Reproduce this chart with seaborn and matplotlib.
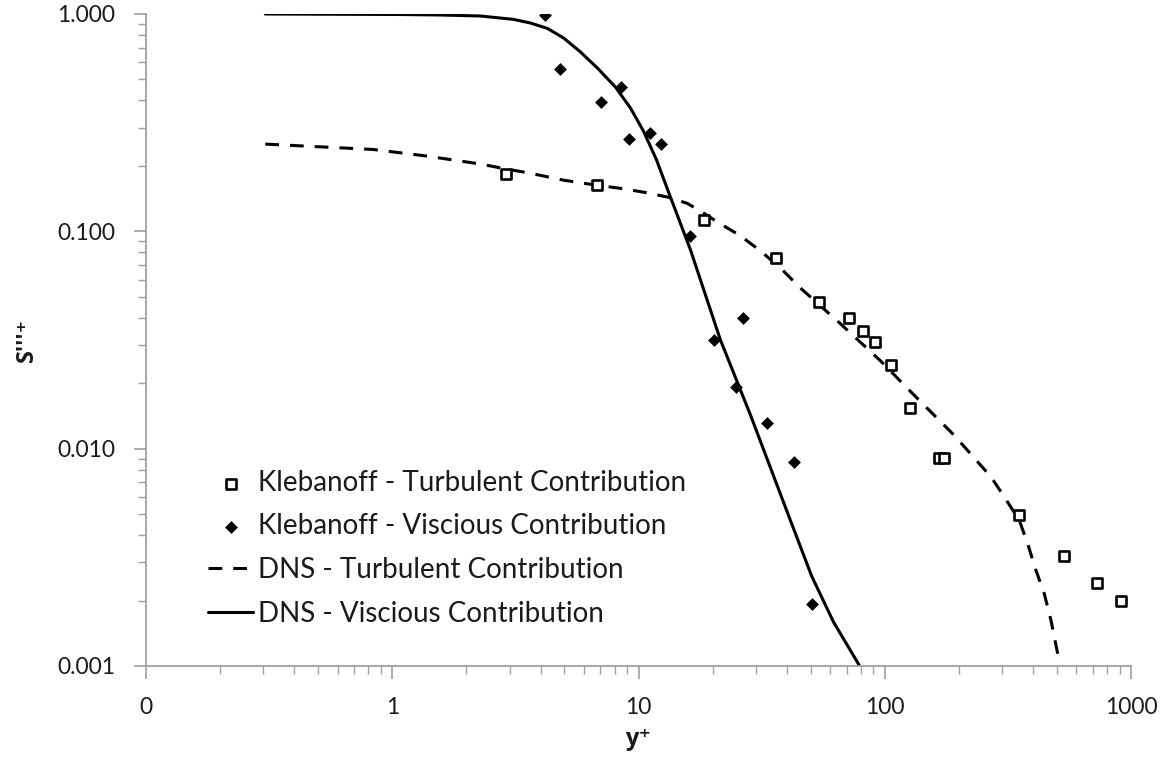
import numpy as np
import pandas as pd
import matplotlib
matplotlib.use("Agg")
import matplotlib.pyplot as plt
import seaborn as sns
from matplotlib.ticker import LogLocator, NullFormatter

# ---- data ----
kleb_turb_yplus = [2.91, 6.79, 18.4, 36.1, 54.1, 71.6, 81.9, 91.3, 106.5, 126.7,
                   165.8, 173.7, 351.6, 532.5, 727.6, 910.8]
kleb_turb_s = [0.1835, 0.1628, 0.1127, 0.0756, 0.0474, 0.0398, 0.0349, 0.0310,
               0.0243, 0.01533, 0.00908, 0.00908, 0.00495, 0.00320, 0.00241, 0.00200]

kleb_visc_yplus = [4.19, 4.82, 8.50, 7.07, 11.1, 9.11, 12.3, 16.2, 26.6, 20.2,
                   24.8, 33.4, 42.8, 50.5]
kleb_visc_s = [0.989, 0.557, 0.463, 0.394, 0.284, 0.267, 0.252, 0.0952, 0.0398,
               0.0316, 0.0193, 0.01315, 0.00865, 0.00193]

dns_turb_yplus = [0.305, 0.839, 1.38, 2.28, 2.91, 3.64, 4.96, 6.81, 8.45, 10.68,
                  13.24, 15.78, 18.37, 20.9, 26.0, 31.3, 37.8, 45.5, 66.2, 96.3,
                  131.5, 191, 270, 305.5, 351.6, 380, 411, 444, 473, 503.6, 507]
dns_turb_s = [0.252, 0.238, 0.222, 0.204, 0.1935, 0.185, 0.172, 0.1628, 0.1577,
              0.1509, 0.1434, 0.1345, 0.1214, 0.1104, 0.0952, 0.0812, 0.0676,
              0.0548, 0.0375, 0.0253, 0.01765, 0.01155, 0.00742, 0.00601,
              0.00469, 0.00367, 0.00276, 0.00216, 0.001626, 0.001143, 0.00109]

dns_visc_yplus = [0.305, 1.078, 1.567, 2.28, 3.10, 3.64, 4.27, 4.96, 5.81, 6.81,
                  8.06, 9.28, 10.48, 11.84, 13.24, 16.27, 21.5, 28.5, 41.5, 50.5,
                  62.0, 79.1]
dns_visc_s = [1.0, 0.9947, 0.9895, 0.979, 0.945, 0.909, 0.858, 0.776, 0.669,
              0.564, 0.461, 0.369, 0.289, 0.2129, 0.1517, 0.0820, 0.0317,
              0.01427, 0.00464, 0.00259, 0.00159, 0.001]

x_ticks = [0.1, 1, 10, 100, 1000]
x_tick_labels = ["0", "1", "10", "100", "1000"]
y_ticks = [0.001, 0.01, 0.1, 1.0]
y_tick_labels = ["0.001", "0.010", "0.100", "1.000"]

labels = ["Klebanoff - Turbulent Contribution",
          "Klebanoff - Viscious Contribution",
          "DNS - Turbulent Contribution",
          "DNS - Viscious Contribution"]

# ---- style ----
sns.set_theme(style="white")
plt.rcParams["font.family"] = ["Lato", "DejaVu Sans"]
axis_grey = "#a0a0a0"
text_col = "#1a1a1a"

fig = plt.figure(figsize=(11.68, 7.61), dpi=100)
ax = fig.add_axes([146 / 1168, 1 - 666 / 761, (1131 - 146) / 1168, (666 - 14) / 761])

df_dt = pd.DataFrame({"y": dns_turb_yplus, "s": dns_turb_s})
df_dv = pd.DataFrame({"y": dns_visc_yplus, "s": dns_visc_s})
df_kt = pd.DataFrame({"y": kleb_turb_yplus, "s": kleb_turb_s})
df_kv = pd.DataFrame({"y": kleb_visc_yplus, "s": kleb_visc_s})

lw = 2.2
sns.lineplot(data=df_dt, x="y", y="s", ax=ax, sort=False, estimator=None,
             color="black", lw=lw, label=labels[2], zorder=2)
ax.lines[-1].set_dashes([4.5, 3.6])
ax.lines[-1].set_solid_joinstyle("round")
sns.lineplot(data=df_dv, x="y", y="s", ax=ax, sort=False, estimator=None,
             color="black", lw=lw, label=labels[3], zorder=2)
ax.lines[-1].set_solid_joinstyle("round")
sns.scatterplot(data=df_kt, x="y", y="s", ax=ax, marker="s", s=60,
                facecolor="white", edgecolor="black", linewidth=1.9,
                label=labels[0], zorder=3)
sns.scatterplot(data=df_kv, x="y", y="s", ax=ax, marker="D", s=36,
                color="black", edgecolor="black", linewidth=0.5,
                label=labels[1], zorder=3)

ax.set_xscale("log")
ax.set_yscale("log")
ax.set_xlim(0.1, 1000)
ax.set_ylim(0.001, 1.0)

ax.set_xticks(x_ticks, labels=x_tick_labels)
ax.set_yticks(y_ticks, labels=y_tick_labels)
ax.xaxis.set_minor_locator(LogLocator(base=10, subs=np.arange(2, 10), numticks=50))
ax.yaxis.set_minor_locator(LogLocator(base=10, subs=np.arange(2, 10), numticks=50))
ax.xaxis.set_minor_formatter(NullFormatter())
ax.yaxis.set_minor_formatter(NullFormatter())

for side in ["top", "right"]:
    ax.spines[side].set_visible(False)
for side in ["left", "bottom"]:
    ax.spines[side].set_color(axis_grey)
    ax.spines[side].set_linewidth(1.3)

ax.tick_params(axis="both", which="both", bottom=True, left=True, top=False, right=False)
ax.tick_params(axis="both", which="major", direction="out", length=9, width=1.2,
               color=axis_grey, labelsize=16.5, labelcolor=text_col, pad=13)
ax.tick_params(axis="both", which="minor", direction="out", length=6, width=1.0,
               color=axis_grey)

ax.set_xlabel("y\u207a", fontsize=17, fontweight="bold", color=text_col,
              labelpad=7, fontfamily=["Open Sans", "DejaVu Sans"])
ax.set_ylabel("S'''\u207a", fontsize=17, fontweight="bold", color=text_col,
              labelpad=13, fontfamily=["Open Sans", "DejaVu Sans"])

handles, lbls = ax.get_legend_handles_labels()
order = [lbls.index(l) for l in labels]
leg = ax.legend([handles[i] for i in order], [lbls[i] for i in order],
                loc="upper left", bbox_to_anchor=(208 / 1168, 1 - 470 / 761),
                bbox_transform=fig.transFigure, frameon=False, fontsize=20,
                borderpad=0, borderaxespad=0, handlelength=1.62,
                handletextpad=0.18, labelspacing=0.63)
for t in leg.get_texts():
    t.set_color(text_col)

fig.savefig("out.png", dpi=100)
